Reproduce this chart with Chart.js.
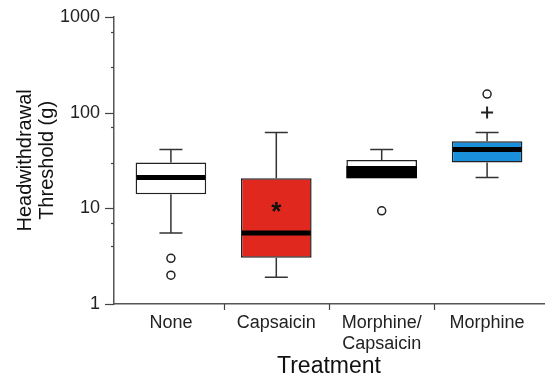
<!DOCTYPE html>
<html>
<head>
<meta charset="utf-8">
<script src="https://cdn.jsdelivr.net/npm/chart.js@4.4.1/dist/chart.umd.min.js"></script>
<style>
  html, body { margin: 0; padding: 0; background: #fff; }
  #wrap { width: 552px; height: 389px; position: relative; }
</style>
</head>
<body>
<div id="wrap"><canvas id="boxChart"></canvas></div>
<script>
// treatment groups and box plot statistics (g, log scale)
const categories = ["None", "Capsaicin", ["Morphine/", "Capsaicin"], "Morphine"];
const whiskerLow = [5.5, 1.9, null, 21];
const q1 = [14, 3.05, 20.6, 30];
const median = [21, 5.5, 24, 41];
const q3 = [30, 20.6, 32, 50];
const whiskerHigh = [41, 62, 41, 62];
const darkBand = [{ x: 2, y: [20.6, 27.7] }];
const boxColors = ["#ffffff", "#e0281e", "#ffffff", "#1a8fdc"];
const outliers = [
    { x: 0, y: 3 },
    { x: 0, y: 2 },
    { x: 2, y: 9.4 },
    { x: 3, y: 156 },
];
const extremes = [{ x: 3, y: 100 }];
const significance = [{ x: 1, y: 10.4, text: "*" }];
const yTitle = ["Headwithdrawal", "Threshold (g)"];
const xTitle = "Treatment";

const boxParts = {
    id: "boxParts",
    afterDatasetsDraw: function (chart) {
        const ctx = chart.ctx;
        const y = chart.scales.y;
        const meta = chart.getDatasetMeta(0);
        ctx.save();
        meta.data.forEach(function (bar, i) {
            const cx = bar.x;
            const half = bar.width / 2;
            // whiskers
            ctx.strokeStyle = "#333";
            ctx.lineWidth = 1.5;
            [[q3[i], whiskerHigh[i]], [q1[i], whiskerLow[i]]].forEach(function (w) {
                if (w[1] == null) return;
                const y0 = y.getPixelForValue(w[0]);
                const y1 = y.getPixelForValue(w[1]);
                ctx.beginPath();
                ctx.moveTo(cx, y0);
                ctx.lineTo(cx, y1);
                ctx.moveTo(cx - 11.5, y1);
                ctx.lineTo(cx + 11.5, y1);
                ctx.stroke();
            });
            // median
            ctx.strokeStyle = "#000";
            ctx.lineWidth = 5;
            const ym = y.getPixelForValue(median[i]);
            ctx.beginPath();
            ctx.moveTo(cx - half + 1, ym);
            ctx.lineTo(cx + half - 1, ym);
            ctx.stroke();
        });
        // significance marks
        ctx.fillStyle = "#111";
        ctx.font = "bold 26px 'Liberation Sans', Arial, sans-serif";
        ctx.textAlign = "center";
        ctx.textBaseline = "middle";
        significance.forEach(function (s) {
            const x = chart.scales.x.getPixelForValue(s.x);
            ctx.fillText(s.text, x, y.getPixelForValue(s.y) + 6);
        });
        ctx.restore();
    },
};

const axisTicks = {
    id: "axisTicks",
    afterDraw: function (chart) {
        const ctx = chart.ctx;
        const y = chart.scales.y;
        const x = chart.scales.x;
        ctx.save();
        ctx.strokeStyle = "#444";
        ctx.lineWidth = 1.2;
        y.ticks.forEach(function (t) {
            const major = Math.abs(Math.log10(t.value) - Math.round(Math.log10(t.value))) < 1e-9;
            const py = Math.round(y.getPixelForValue(t.value)) + 0.5;
            ctx.beginPath();
            ctx.moveTo(y.right, py);
            ctx.lineTo(y.right - (major ? 9 : 3), py);
            ctx.stroke();
        });
        // tick marks between groups
        for (let i = 0; i < categories.length - 1; i++) {
            const px = Math.round(x.getPixelForValue(i + 0.5)) + 0.5;
            ctx.beginPath();
            ctx.moveTo(px, x.top);
            ctx.lineTo(px, x.top + 6);
            ctx.stroke();
        }
        ctx.restore();
    },
};

const font = "'Liberation Sans', Arial, sans-serif";

new Chart(document.getElementById("boxChart").getContext("2d"), {
    type: "bar",
    data: {
        datasets: [
            {
                label: "IQR",
                data: q1.map(function (v, i) { return { x: i, y: [v, q3[i]] }; }),
                backgroundColor: boxColors,
                borderColor: "#222",
                borderWidth: 1.5,
                borderSkipped: false,
                grouped: false,
                barPercentage: 0.67,
                categoryPercentage: 1,
                order: 2,
            },
            {
                label: "band",
                data: darkBand,
                backgroundColor: "#000",
                borderWidth: 0,
                grouped: false,
                barPercentage: 0.67,
                categoryPercentage: 1,
                order: 1,
            },
            {
                type: "line",
                label: "outliers",
                data: outliers,
                showLine: false,
                pointStyle: "circle",
                pointRadius: 4,
                pointBackgroundColor: "#fff",
                pointBorderColor: "#222",
                pointBorderWidth: 1.5,
                order: 0,
            },
            {
                type: "line",
                label: "extremes",
                data: extremes,
                showLine: false,
                pointStyle: "cross",
                pointRadius: 6,
                pointBorderColor: "#222",
                pointBorderWidth: 2,
                order: 0,
            },
        ],
    },
    options: {
        responsive: true,
        maintainAspectRatio: false,
        animation: false,
        layout: { padding: { top: 2, right: 0, left: 0, bottom: 0 } },
        plugins: {
            legend: { display: false },
            tooltip: { enabled: false },
        },
        scales: {
            x: {
                type: "linear",
                offset: false,
                min: -0.54,
                max: 3.54,
                afterFit: function (scale) { scale.height = 85; },
                afterBuildTicks: function (scale) {
                    scale.ticks = categories.map(function (c, i) { return { value: i }; });
                },
                grid: { display: false },
                border: { color: "#555", width: 1.5 },
                ticks: {
                    color: "#222",
                    font: { family: font, size: 18 },
                    padding: 0,
                    maxRotation: 0,
                    autoSkip: false,
                    callback: function (v) { return categories[v]; },
                },
                title: {
                    display: true,
                    text: xTitle,
                    color: "#111",
                    font: { family: font, size: 23 },
                    padding: { top: 0, bottom: 9 },
                },
            },
            y: {
                type: "logarithmic",
                min: 1,
                max: 1000,
                afterFit: function (scale) { scale.width = 114; },
                grid: { display: false },
                border: { color: "#555", width: 1.5 },
                ticks: {
                    color: "#222",
                    font: { family: font, size: 18 },
                    padding: 6,
                    callback: function (v) {
                        const l = Math.log10(v);
                        return Math.abs(l - Math.round(l)) < 1e-9 ? String(v) : "";
                    },
                },
                title: {
                    display: true,
                    text: yTitle,
                    color: "#111",
                    font: { family: font, size: 20, lineHeight: 1.1 },
                    padding: { top: 14, bottom: 0 },
                },
            },
        },
    },
    plugins: [boxParts, axisTicks],
});
</script>
</body>
</html>
